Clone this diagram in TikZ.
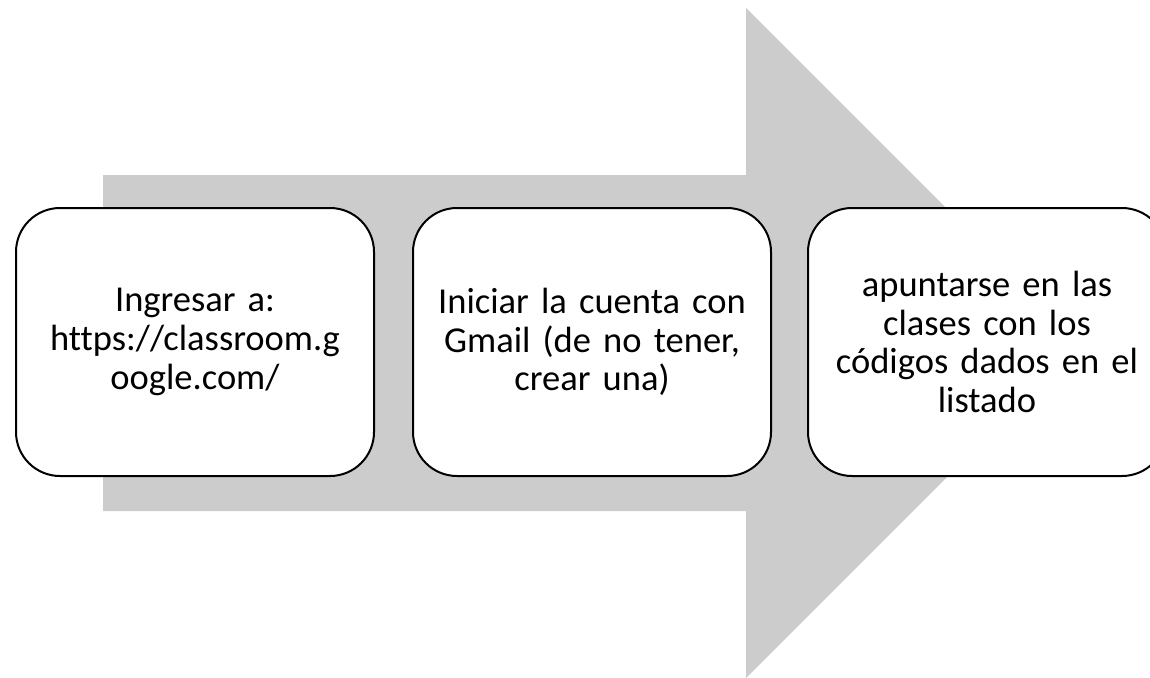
\documentclass[tikz,border=0pt]{standalone}
\usepackage{fontspec}
\setmainfont[Ligatures=NoCommon]{Carlito}
\definecolor{arrowgray}{RGB}{204,204,204}
\begin{document}
\begin{tikzpicture}[x=1pt,y=-1pt,
  stepbox/.style={draw=black, line width=2pt, fill=white, rounded corners=44pt,
    minimum width=358pt, minimum height=268pt, text width=345pt, align=center,
    inner sep=0pt, font=\fontsize{36.5}{38.8}\selectfont}]
\useasboundingbox (0,0) rectangle (1150,677);
\clip (0,0) rectangle (1150,677);
\fill[arrowgray] (103,175) -- (746,175) -- (746,8) -- (1081,343) -- (746,678) -- (746,511) -- (103,511) -- cycle;
\node[stepbox] (s1) at (195,342) {Ingresar a:\\ https://classroom.g\\ oogle.com/};
\node[stepbox] (s2) at (592,342) {Iniciar la cuenta con\\ Gmail (de no tener,\\ crear una)};
\node[stepbox] (s3) at (987,342) {apuntarse en las\\ clases con los\\ códigos dados en el\\ listado};
\end{tikzpicture}
\end{document}
